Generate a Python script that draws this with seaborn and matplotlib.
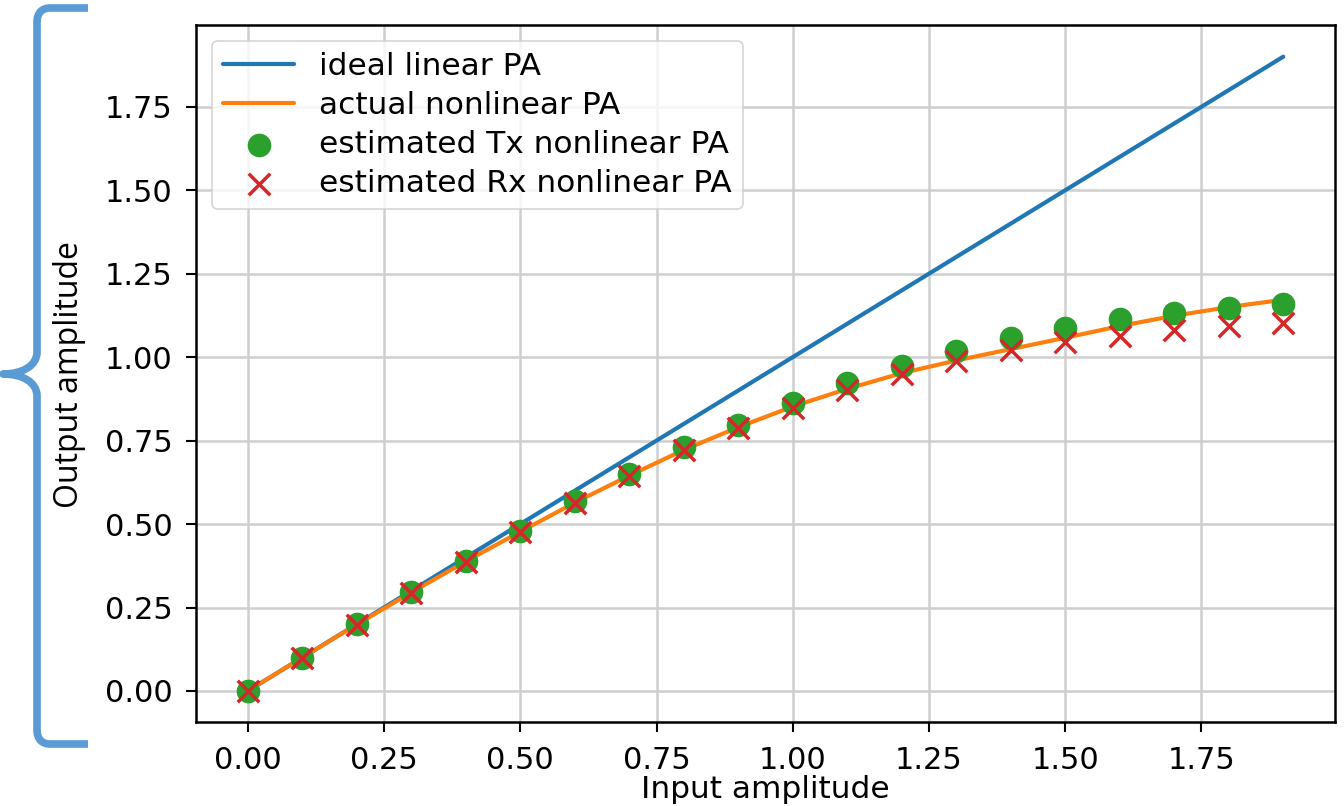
import numpy as np
import pandas as pd
import matplotlib
matplotlib.use("Agg")
import matplotlib.pyplot as plt
from matplotlib import font_manager
from matplotlib.path import Path
from matplotlib.patches import PathPatch
from matplotlib.transforms import Affine2D
import seaborn as sns

# Input amplitude samples
input_amp = [0.0, 0.1, 0.2, 0.3, 0.4, 0.5, 0.6, 0.7, 0.8, 0.9,
             1.0, 1.1, 1.2, 1.3, 1.4, 1.5, 1.6, 1.7, 1.8, 1.9]
# Ideal linear amplifier output
ideal_out = [0.0, 0.1, 0.2, 0.3, 0.4, 0.5, 0.6, 0.7, 0.8, 0.9,
             1.0, 1.1, 1.2, 1.3, 1.4, 1.5, 1.6, 1.7, 1.8, 1.9]
# Actual nonlinear amplifier output
actual_out = [0.0, 0.100, 0.199, 0.295, 0.388, 0.477, 0.564, 0.645, 0.722, 0.790,
              0.852, 0.905, 0.952, 0.990, 1.024, 1.058, 1.093, 1.124, 1.150, 1.172]
# Transmitter-side estimate
tx_est = [0.0, 0.100, 0.200, 0.296, 0.390, 0.480, 0.569, 0.650, 0.730, 0.797,
          0.862, 0.922, 0.974, 1.019, 1.057, 1.087, 1.113, 1.132, 1.147, 1.159]
# Receiver-side estimate
rx_est = [0.0, 0.099, 0.198, 0.294, 0.387, 0.476, 0.563, 0.645, 0.722, 0.787,
          0.847, 0.902, 0.950, 0.987, 1.022, 1.045, 1.062, 1.080, 1.092, 1.102]

series_labels = ["ideal linear PA", "actual nonlinear PA",
                 "estimated Tx nonlinear PA", "estimated Rx nonlinear PA"]
tick_values = [0.0, 0.25, 0.5, 0.75, 1.0, 1.25, 1.5, 1.75]

df = pd.DataFrame({"x": input_amp, "ideal": ideal_out, "actual": actual_out,
                   "tx": tx_est, "rx": rx_est})

sns.set_theme(style="ticks")
plt.rcParams["font.family"] = ["DejaVu Sans"]
plt.rcParams["text.color"] = "black"
plt.rcParams["axes.labelcolor"] = "black"

W, H = 1344, 806
fig = plt.figure(figsize=(W / 100, H / 100), dpi=100)
ax = fig.add_axes([196 / W, (H - 722) / H, (1335 - 196) / W, (722 - 25) / H])

blue, orange, green, red = "#1f77b4", "#ff7f0e", "#2ca02c", "#d62728"

sns.lineplot(data=df, x="x", y="ideal", ax=ax, color=blue, linewidth=3.0,
             label=series_labels[0], zorder=3)
sns.lineplot(data=df, x="x", y="actual", ax=ax, color=orange, linewidth=3.0,
             label=series_labels[1], zorder=4)
sns.scatterplot(data=df, x="x", y="tx", ax=ax, color=green, marker="o", s=290,
                linewidth=0, label=series_labels[2], zorder=5)
sns.scatterplot(data=df, x="x", y="rx", ax=ax, color=red, marker="x", s=240,
                linewidth=2.5, label=series_labels[3], zorder=6)

ax.set_xlim(-0.095, 1.995)
ax.set_ylim(-0.093, 1.995)
ax.set_xticks(tick_values)
ax.set_yticks(tick_values)
ax.set_xticklabels([f"{v:.2f}" for v in tick_values])
ax.set_yticklabels([f"{v:.2f}" for v in tick_values])

ax.grid(True, color="#cfcfcf", linewidth=1.8)
ax.set_axisbelow(True)
for sp in ax.spines.values():
    sp.set_color("black")
    sp.set_linewidth(1.8)
ax.tick_params(axis="both", which="major", labelsize=22, length=7, width=1.5,
               color="black", labelcolor="black")
ax.tick_params(axis="x", pad=10)
ax.tick_params(axis="y", pad=10)

ax.set_xlabel("Input amplitude", fontsize=22.5, color="black", labelpad=0.5)

# y-axis title in a narrow face
installed = {f.name for f in font_manager.fontManager.ttflist}
narrow = [n for n in ["Liberation Sans Narrow", "Open Sans", "Liberation Sans"]
          if n in installed]
ax.set_ylabel("Output amplitude", fontsize=23, color="black",
              family=narrow[:1] + ["DejaVu Sans"])
ax.yaxis.set_label_coords(-0.097, 0.498)

leg = ax.legend(loc="upper left", fontsize=22.5, frameon=True, framealpha=0.8,
                edgecolor="#cccccc", fancybox=True, labelspacing=0.33,
                handlelength=2.3, handletextpad=0.8, borderpad=0.35)
leg.get_frame().set_linewidth(1.2)
for t in leg.get_texts():
    t.set_color("black")

# Curly brace along the left edge (figure pixel coordinates, y downward)
px = Affine2D().scale(1 / W, -1 / H).translate(0, 1) + fig.transFigure
verts = [
    (88, 8), (50, 8),
    (42, 8), (37, 13), (37, 22),
    (37, 352),
    (37, 366), (22, 374), (3, 374),
    (22, 374), (37, 382), (37, 396),
    (37, 730),
    (37, 739), (42, 744), (50, 744),
    (88, 744),
]
codes = [Path.MOVETO, Path.LINETO,
         Path.CURVE4, Path.CURVE4, Path.CURVE4,
         Path.LINETO,
         Path.CURVE4, Path.CURVE4, Path.CURVE4,
         Path.CURVE4, Path.CURVE4, Path.CURVE4,
         Path.LINETO,
         Path.CURVE4, Path.CURVE4, Path.CURVE4,
         Path.LINETO]
brace = PathPatch(Path(verts, codes), transform=px, facecolor="none",
                  edgecolor="#5b9bd5", linewidth=5.5, capstyle="butt",
                  joinstyle="round")
fig.patches.append(brace)

fig.savefig("out.png", dpi=100)
